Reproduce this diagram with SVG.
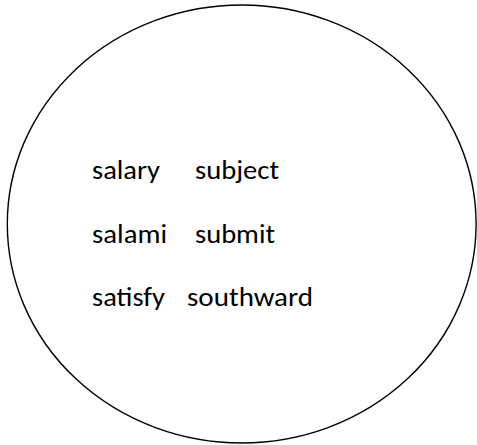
<svg xmlns="http://www.w3.org/2000/svg" width="477" height="445" viewBox="0 0 477 445">
  <style>
    .outline { fill: none; stroke: #000; stroke-width: 1.4; }
    .word { font-family: Carlito, Lato, "Liberation Sans", sans-serif; font-size: 27px; fill: #000; }
  </style>
  <rect width="477" height="445" fill="#fff"/>
  <g id="set">
    <ellipse class="outline" cx="241.7" cy="224" rx="234.4" ry="219"/>
  </g>
  <g id="words">
    <text class="word" x="92" y="179" textLength="68" lengthAdjust="spacingAndGlyphs">salary</text>
    <text class="word" x="195" y="179" textLength="84" lengthAdjust="spacingAndGlyphs">subject</text>
    <text class="word" x="92" y="243" textLength="75" lengthAdjust="spacingAndGlyphs">salami</text>
    <text class="word" x="195" y="243" textLength="80" lengthAdjust="spacingAndGlyphs">submit</text>
    <text class="word" x="92" y="306" textLength="73" lengthAdjust="spacingAndGlyphs">satisfy</text>
    <text class="word" x="187" y="306" textLength="126" lengthAdjust="spacingAndGlyphs">southward</text>
  </g>
</svg>
